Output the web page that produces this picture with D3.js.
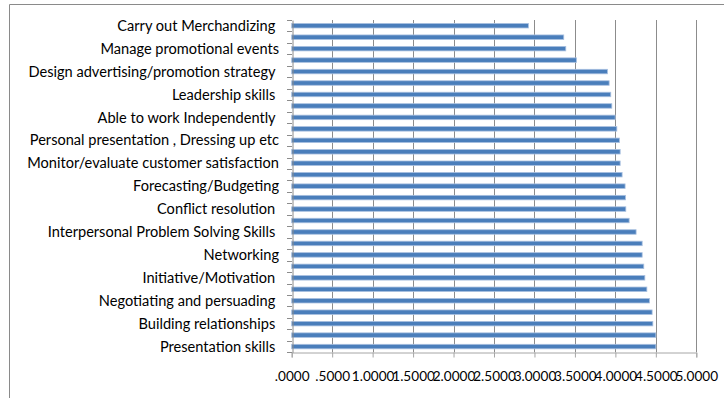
<!DOCTYPE html>
<html>
<head>
<meta charset="utf-8">
<script src="https://cdn.jsdelivr.net/npm/d3@7/dist/d3.min.js"></script>
<style>
  html, body { margin: 0; padding: 0; background: #fff; }
  svg { display: block; }
  .lbl { font-family: Lato, "Open Sans", sans-serif; font-size: 14.6px; fill: #000; white-space: pre; }
  .tick-x { font-family: Lato, "Open Sans", sans-serif; font-size: 13.6px; fill: #000; }
</style>
</head>
<body>
<svg id="chart" width="724" height="398"></svg>
<script>
// Mean ratings for each skill, top row first (29 rows)
const values = [
  2.925, 3.362, 3.387, 3.519, 3.902, 3.923, 3.943, 3.956, 3.997,
  4.018, 4.050, 4.059, 4.059, 4.083, 4.120, 4.125, 4.129, 4.170, 4.256,
  4.331, 4.331, 4.351, 4.364, 4.389, 4.421, 4.454, 4.463, 4.500, 4.500
];

// Category labels shown on every second row
const shownLabels = [
  "Carry out Merchandizing ",
  "Manage promotional events",
  "Design advertising/promotion strategy ",
  "Leadership skills ",
  "Able to work Independently ",
  "Personal presentation , Dressing up etc",
  "Monitor/evaluate customer satisfaction",
  "Forecasting/Budgeting",
  "Conflict resolution ",
  "Interpersonal Problem Solving Skills ",
  "Networking",
  "Initiative/Motivation ",
  "Negotiating and persuading ",
  "Building relationships ",
  "Presentation skills "
];

// Value axis tick values
const xTicks = [0, 0.5, 1, 1.5, 2, 2.5, 3, 3.5, 4, 4.5, 5];

const svg = d3.select("#chart");

const plotLeft = 291.7, plotRight = 696.3, plotTop = 20, plotBottom = 352.3;

const x = d3.scaleLinear().domain([0, 5]).range([plotLeft, plotRight]);
const y = d3.scaleBand().domain(d3.range(values.length)).range([plotTop, plotBottom]);

// Outer frame (top and left edges)
svg.append("path")
  .attr("d", `M9.5,398 L9.5,4.5 L724,4.5`)
  .attr("fill", "none")
  .attr("stroke", "#8a8a8a")
  .attr("stroke-width", 1);

// Vertical gridlines
svg.append("g")
  .selectAll("line")
  .data(xTicks.slice(1))
  .join("line")
  .attr("x1", d => Math.round(x(d)) + 0.5)
  .attr("x2", d => Math.round(x(d)) + 0.5)
  .attr("y1", plotTop)
  .attr("y2", plotBottom)
  .attr("stroke", "#8c8c8c")
  .attr("stroke-width", 1);

// Bars
const barH = 4.5;
svg.append("g")
  .selectAll("rect")
  .data(values)
  .join("rect")
  .attr("x", x(0))
  .attr("y", (d, i) => y(i) + y.bandwidth() / 2 - barH / 2)
  .attr("width", d => x(d) - x(0))
  .attr("height", barH)
  .attr("fill", "#4a7ebb")
  .attr("stroke", "#a9c0e0")
  .attr("stroke-width", 0.8);

// Value axis
const fmt = d => {
  const s = d3.format(".4f")(d);
  return s.startsWith("0") ? s.slice(1) : s;
};
const xAxis = svg.append("g")
  .attr("transform", `translate(0,${Math.round(plotBottom) + 0.5})`)
  .call(d3.axisBottom(x).tickValues(xTicks).tickFormat(fmt).tickSize(5).tickPadding(14));
xAxis.attr("font-family", null).attr("font-size", null);
xAxis.select(".domain").attr("stroke", "#a6a6a6");
xAxis.selectAll(".tick line").attr("stroke", "#a6a6a6");
xAxis.selectAll(".tick text").attr("class", "tick-x");

// Category axis
const yAxis = svg.append("g")
  .attr("transform", `translate(${Math.round(plotLeft) + 0.5},0)`)
  .call(d3.axisLeft(y).tickSize(0).tickFormat(""));
yAxis.select(".domain").attr("stroke", "#8c8c8c");

// Tick marks between categories
svg.append("g")
  .selectAll("line")
  .data(d3.range(values.length + 1))
  .join("line")
  .attr("x1", Math.round(plotLeft) - 5)
  .attr("x2", Math.round(plotLeft))
  .attr("y1", i => Math.round(plotTop + i * y.step()) + 0.5)
  .attr("y2", i => Math.round(plotTop + i * y.step()) + 0.5)
  .attr("stroke", "#8c8c8c");

// Labels on every second row
svg.append("g")
  .selectAll("text")
  .data(shownLabels)
  .join("text")
  .attr("class", "lbl")
  .attr("x", 279)
  .attr("y", (d, k) => y(k * 2) + y.bandwidth() / 2)
  .attr("dy", "0.35em")
  .attr("text-anchor", "end")
  .text(d => d);
</script>
</body>
</html>
